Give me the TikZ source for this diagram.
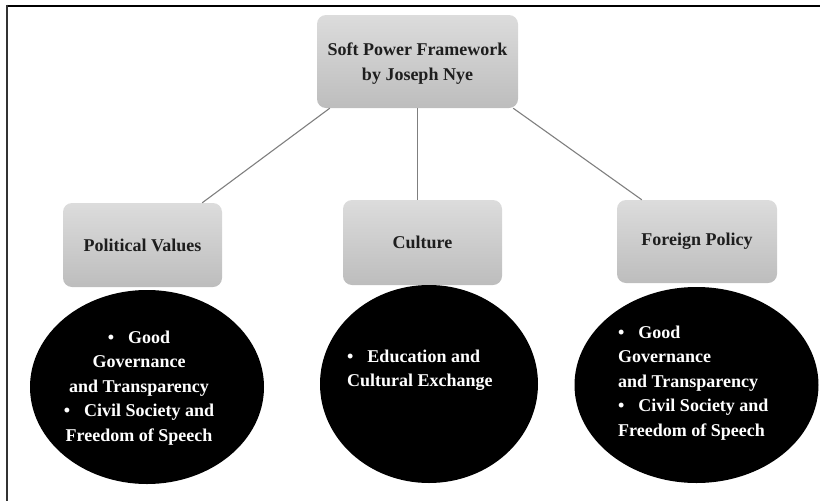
\documentclass[tikz,border=0pt]{standalone}
\usepackage{fontspec}
\setmainfont{Liberation Serif}
\usetikzlibrary{shapes.geometric,calc}
\definecolor{BoxTop}{HTML}{DCDCDC}
\definecolor{BoxBottom}{HTML}{BDBDBD}
\definecolor{LinkGray}{HTML}{7F7F7F}
\definecolor{LabelInk}{HTML}{1E1E1E}

\begin{document}
\begin{tikzpicture}[x=1pt, y=-1pt,
  font=\bfseries\fontsize{18}{24.5}\selectfont,
  pillar/.style={rounded corners=9pt, top color=BoxTop, bottom color=BoxBottom,
    text=LabelInk, align=center, inner sep=0pt},
  blob/.style={ellipse, fill=black, inner sep=0pt},
  blobtext/.style={text=white, inner sep=0pt},
  link/.style={LinkGray, line width=1.1pt}]
  \useasboundingbox (0,0) rectangle (820,501);

  % page frame
  \draw[line width=2pt] (6,5.5) -- (820,5.5);
  \draw[black!80, line width=1.8pt] (7,4.5) -- (7,501);

  % framework and its three sources
  \node[pillar, minimum width=201pt, minimum height=93pt] (root) at (417.5,61.5)
    {\rule{0pt}{17pt}Soft Power Framework\\by Joseph Nye};
  \node[pillar, minimum width=159pt, minimum height=84pt] (pv) at (142.5,245) {Political Values};
  \node[pillar, minimum width=159pt, minimum height=85pt] (cu) at (422.5,242.5) {Culture};
  \node[pillar, minimum width=160pt, minimum height=83pt] (fp) at (697,241.5) {Foreign Policy};

  \draw[link] ([xshift=13pt]root.south west) -- ([xshift=-20pt]pv.north east);
  \draw[link] (root.south) -- (root.south |- cu.north);
  \draw[link] ([xshift=-5pt]root.south east) -- ([xshift=25pt]fp.north west);

  % resources under each source
  \node[blob, minimum width=234pt, minimum height=194pt] (pvE) at (147,387) {};
  \node[blob, minimum width=218pt, minimum height=198pt] (cuE) at (429,384) {};
  \node[blob, minimum width=244pt, minimum height=196pt] (fpE) at (696.5,385) {};

  \node[blobtext, align=center] (pvT) at (139,388)
    {\textbullet\hspace{14pt}Good\\Governance\\and Transparency\\
     \textbullet\hspace{14pt}Civil Society and\\Freedom of Speech};
  \node[blobtext, align=left, anchor=west] (cuT) at (347,370)
    {\textbullet\hspace{14pt}Education and\\Cultural Exchange};
  \node[blobtext, align=left, anchor=west] (fpT) at (618,383)
    {\textbullet\hspace{14pt}Good\\Governance\\and Transparency\\
     \textbullet\hspace{14pt}Civil Society and\\Freedom of Speech};
\end{tikzpicture}
\end{document}
